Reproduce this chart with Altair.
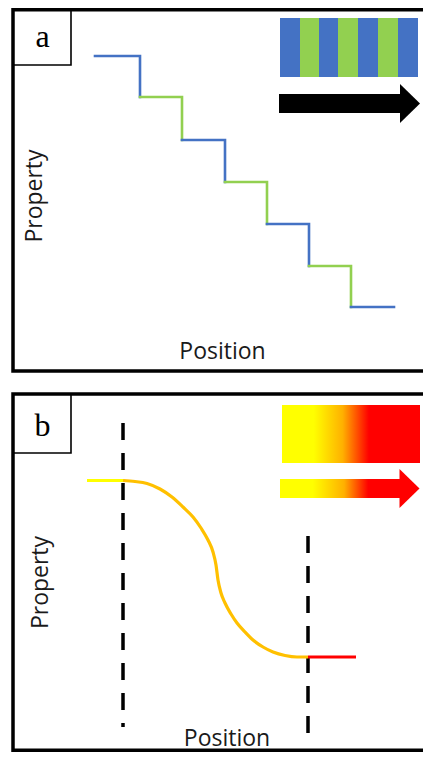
import altair as alt
import pandas as pd

# ---- all values are in figure units (pixels of the 431 x 760 figure) ----
BLUE, GREEN = "#4472C4", "#92D050"

# Panel a : staircase profile
step_x = [95, 140, 182, 225, 267, 309, 351, 394]
step_y = [56, 97, 140, 182, 224, 266, 307]
step_colors = [BLUE, GREEN, BLUE, GREEN, BLUE, GREEN, BLUE]

# Panel a : striped bar
stripe_edges = [280, 300, 319, 338, 358, 378, 398, 418]
stripe_colors = [BLUE, GREEN, BLUE, GREEN, BLUE, GREEN, BLUE]
stripe_top, stripe_bottom = 18, 77

# Arrows: shaft (x, x2, y, y2) and head (centre position)
arrow_shaft_a = dict(x=279, x2=401, y=94, y2=113)
arrow_shaft_b = dict(x=280, x2=401, y=479, y2=498)
head_x = [410, 409.5]
head_y = [103.5, 488.5]
head_colors = ["black", "#FF0000"]

# Panel b : smooth profile
curve_x = [123, 135, 147, 160, 172, 183, 193, 201, 208, 213, 216, 218,
           221, 225, 231, 237, 245, 253, 263, 273, 285, 297, 308]
curve_y = [480.5, 481.5, 483.5, 489, 497, 507, 517, 528, 540, 552, 565, 580,
           593, 603, 614, 623, 632, 640, 647, 652, 655.5, 657, 657]
left_plateau_x, left_plateau_y = [87, 123], 480.5
right_plateau_x, right_plateau_y = [308, 356], 657

# Panel b : dashed boundaries
dash_x = [123, 308]
dash_top = [423, 536]
dash_bottom = [727, 733]

# Panel b : gradient bar
grad_rect = dict(x=282, x2=420, y=405, y2=463)

# Frames and label boxes
frames = pd.DataFrame({"x": [13, 13], "x2": [470, 470], "y": [9.8, 394], "y2": [371, 750.2]})
boxes = pd.DataFrame({"x": [13, 13], "x2": [71, 71], "y": [9.8, 394], "y2": [65, 453]})
panel_letters = pd.DataFrame({"t": ["a", "b"], "x": [42.5, 42.5], "y": [47, 435.5]})
pos_labels = pd.DataFrame({"t": ["Position", "Position"], "x": [222.5, 227], "y": [359, 745.5]})
prop_labels = pd.DataFrame({"t": ["Property", "Property"], "x": [35, 41], "y": [196, 582.5]})

# chart fills the window exactly (8px page margin on each side)
X0, X1, Y0, Y1 = 8, 423, 8, 752
W, H = X1 - X0, Y1 - Y0
XS = alt.Scale(domain=[X0, X1], nice=False, zero=False)
YS = alt.Scale(domain=[Y0, Y1], nice=False, zero=False, reverse=True)


def X(f="x"):
    return alt.X(f"{f}:Q", scale=XS, axis=None)


def Y(f="y"):
    return alt.Y(f"{f}:Q", scale=YS, axis=None)


# ---------- build tables ----------
rows = []
for i in range(len(step_y)):
    pts = [(step_x[i], step_y[i]), (step_x[i + 1], step_y[i])]
    if i + 1 < len(step_y):
        pts.append((step_x[i + 1], step_y[i + 1]))
    for k, (px, py) in enumerate(pts):
        rows.append({"x": px, "y": py, "seg": i, "ord": k, "c": step_colors[i]})
stairs_df = pd.DataFrame(rows)

stripes_df = pd.DataFrame({
    "x": stripe_edges[:-1], "x2": stripe_edges[1:],
    "y": [stripe_top] * 7, "y2": [stripe_bottom] * 7, "c": stripe_colors,
})
curve_df = pd.DataFrame({"x": curve_x, "y": curve_y})
lp_df = pd.DataFrame({"x": left_plateau_x, "y": [left_plateau_y] * 2})
rp_df = pd.DataFrame({"x": right_plateau_x, "y": [right_plateau_y] * 2})
dash_df = pd.DataFrame({"x": dash_x, "y": dash_top, "y2": dash_bottom})
grad_df = pd.DataFrame([grad_rect])
shaft_a_df = pd.DataFrame([arrow_shaft_a])
shaft_b_df = pd.DataFrame([arrow_shaft_b])
heads_df = pd.DataFrame({"x": head_x, "y": head_y, "c": head_colors})


def gradient(y_end, orange, red):
    return alt.LinearGradient(
        gradient="linear", x1=0, x2=1, y1=0, y2=0,
        stops=[alt.GradientStop(color="#FFFF00", offset=0),
               alt.GradientStop(color="#FFFF00", offset=y_end),
               alt.GradientStop(color="#FFB000", offset=orange),
               alt.GradientStop(color="#FF0000", offset=red),
               alt.GradientStop(color="#FF0000", offset=1)])


# head shape: triangle 20 px long, 39 px tall (unit box scaled by sqrt(size)/2)
HEAD_PATH = "M -0.513 -1 L 0.513 0 L -0.513 1 Z"
HEAD_SIZE = 39 * 39

# ---------- layers ----------
box_layer = alt.Chart(boxes).mark_rect(fill="white", stroke="black", strokeWidth=1.6).encode(
    x=X(), x2="x2:Q", y=Y(), y2="y2:Q")
frame_layer = alt.Chart(frames).mark_rect(fillOpacity=0, stroke="black", strokeWidth=3.5).encode(
    x=X(), x2="x2:Q", y=Y(), y2="y2:Q")

stairs = alt.Chart(stairs_df).mark_line(strokeWidth=2.6, strokeJoin="miter", strokeCap="square").encode(
    x=X(), y=Y(), detail="seg:N", order="ord:Q", color=alt.Color("c:N", scale=None))
stripes = alt.Chart(stripes_df).mark_rect().encode(
    x=X(), x2="x2:Q", y=Y(), y2="y2:Q", color=alt.Color("c:N", scale=None))
shaft_a = alt.Chart(shaft_a_df).mark_rect(color="black").encode(
    x=X(), x2="x2:Q", y=Y(), y2="y2:Q")
shaft_b = alt.Chart(shaft_b_df).mark_rect(color=gradient(0.27, 0.53, 0.73)).encode(
    x=X(), x2="x2:Q", y=Y(), y2="y2:Q")
heads = alt.Chart(heads_df).mark_point(
    shape=HEAD_PATH, size=HEAD_SIZE, filled=True, opacity=1, strokeWidth=0).encode(
    x=X(), y=Y(), color=alt.Color("c:N", scale=None))

dashes = alt.Chart(dash_df).mark_rule(color="black", strokeWidth=3.5, strokeDash=[17, 13]).encode(
    x=X(), y=Y(), y2="y2:Q")
lp = alt.Chart(lp_df).mark_line(color="#FFFF00", strokeWidth=3).encode(x=X(), y=Y())
rp = alt.Chart(rp_df).mark_line(color="#FF0000", strokeWidth=3).encode(x=X(), y=Y())
curve = alt.Chart(curve_df).mark_line(color="#FFC000", strokeWidth=3.2, interpolate="monotone").encode(
    x=X(), y=Y())
grad_bar = alt.Chart(grad_df).mark_rect(color=gradient(0.23, 0.44, 0.63)).encode(
    x=X(), x2="x2:Q", y=Y(), y2="y2:Q")

letters = alt.Chart(panel_letters).mark_text(
    font="Liberation Serif", fontSize=32, align="center", baseline="alphabetic", color="black").encode(
    x=X(), y=Y(), text="t:N")
pos_text = alt.Chart(pos_labels).mark_text(
    font="Open Sans", fontSize=23, align="center", baseline="alphabetic", color="#1a1a1a").encode(
    x=X(), y=Y(), text="t:N")
prop_text = alt.Chart(prop_labels).mark_text(
    font="Open Sans", fontSize=23, align="center", baseline="middle", angle=270, color="#1a1a1a").encode(
    x=X(), y=Y(), text="t:N")

chart = alt.layer(
    box_layer, frame_layer, stairs, stripes, shaft_a,
    dashes, lp, curve, rp, grad_bar, shaft_b, heads,
    letters, pos_text, prop_text,
).properties(
    width=W, height=H, padding=0, autosize=alt.AutoSizeParams(type="none")
).configure_view(stroke=None)

chart.save("out.html", embed_options={"renderer": "svg", "actions": False})
